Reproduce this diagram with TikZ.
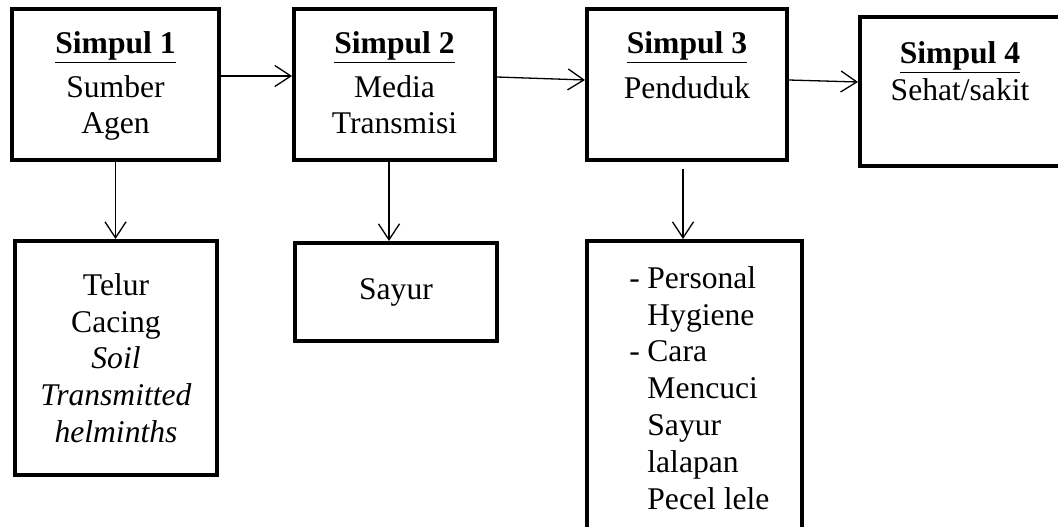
\documentclass[tikz,border=0pt]{standalone}
\usepackage{fontspec}
\setmainfont{Liberation Serif}
\usetikzlibrary{arrows.meta,positioning}

\tikzset{
  kotak/.style={draw, line width=2pt, inner sep=0pt},
  isi/.style={font=\fontsize{15.8}{18.4}\selectfont, align=center, inner sep=0pt},
  panah/.style={-{Straight Barb[length=8pt,width=10.5pt]}, line width=0.65pt}
}

\begin{document}
\begin{tikzpicture}[x=0.5pt,y=-0.5pt]
        \useasboundingbox (0,0) rectangle (1058,526);

        % Simpul atas
        \node[kotak, minimum width=103.5pt, minimum height=75.5pt] (s1) at (115.5,84.5) {};
        \node[kotak, minimum width=100.5pt, minimum height=75.5pt] (s2) at (394.5,84.5) {};
        \node[kotak, minimum width=100pt, minimum height=75.5pt] (s3) at (687,84.5) {};
        \node[kotak, minimum width=100pt, minimum height=74.5pt] (s4) at (960,91.5) {};

        % Kotak bawah
        \node[kotak, minimum width=101pt, minimum height=117pt] (b1) at (116,358) {};
        \node[kotak, minimum width=101pt, minimum height=49pt] (b2) at (396,292) {};
        \node[kotak, minimum width=107.5pt, minimum height=149.5pt] (b3) at (694.5,390.5) {};

        % Teks simpul
        \node[isi, anchor=north, yshift=-12pt] (t1) at (s1.north) {\underline{\textbf{Simpul 1}}\\[3.5pt]Sumber\\Agen};
        \node[isi, anchor=north, yshift=-12pt] (t2) at (s2.north) {\underline{\textbf{Simpul 2}}\\[3.5pt]Media\\Transmisi};
        \node[isi, anchor=north, yshift=-12pt] (t3) at (s3.north) {\underline{\textbf{Simpul 3}}\\[4pt]Penduduk};
        \node[isi, anchor=north, yshift=-13pt] (t4) at (s4.north) {\underline{\textbf{Simpul 4}}\\Sehat/sakit};

        % Teks kotak bawah
        \node[isi, anchor=north, yshift=-17pt] (u1) at (b1.north) {Telur\\Cacing\\\textit{Soil}\\\textit{Transmitted}\\\textit{helminths}};
        \node[isi] (u2) at (b2) {Sayur};
        \node[isi, align=left, anchor=north west] (u3) at (629,266) {\makebox[9pt][l]{-}Personal\\\makebox[9pt]{}Hygiene\\\makebox[9pt][l]{-}Cara\\\makebox[9pt]{}Mencuci\\\makebox[9pt]{}Sayur\\\makebox[9pt]{}lalapan\\\makebox[9pt]{}Pecel lele};

        % Panah mendatar
        \draw[panah] ([yshift=4.25pt]s1.east) -- ([yshift=4.25pt]s1.east -| s2.west);
        \draw[panah] ([yshift=3.75pt]s2.east) -- ([yshift=2.25pt]s3.west);
        \draw[panah] ([yshift=2.25pt]s3.east) -- ([yshift=4.75pt]s4.west);

        % Panah ke bawah
        \draw[panah] (s1.south) -- (s1.south |- b1.north);
        \draw[panah] ([xshift=-2.75pt]s2.south) -- ([xshift=-2.75pt]s2.south |- b2.north);
        \draw[panah] ([xshift=-2pt,yshift=-3.5pt]s3.south) -- ([xshift=-2pt]s3.south |- b3.north);
\end{tikzpicture}
\end{document}
